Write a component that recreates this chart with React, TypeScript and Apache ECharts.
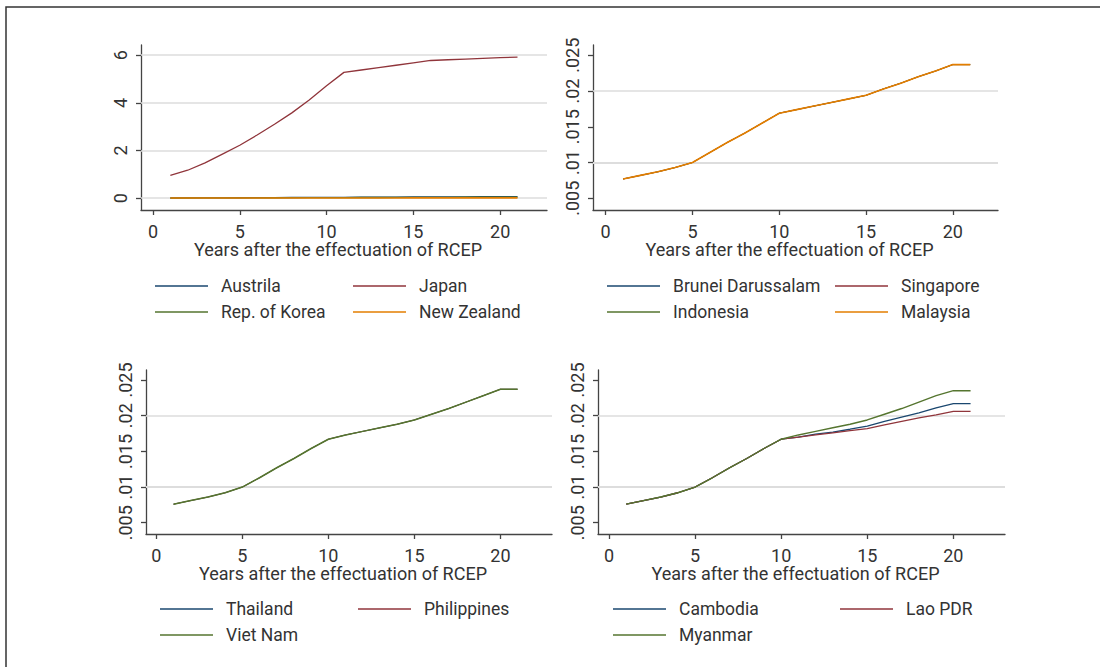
import React, { useEffect, useRef } from "react";
import * as echarts from "echarts";

const years = [1, 2, 3, 4, 5, 6, 7, 8, 9, 10, 11, 12, 13, 14, 15, 16, 17, 18, 19, 20, 21];
const xTicks = [0, 5, 10, 15, 20];
const p1YTicks = [0, 2, 4, 6];
const rateYTicks = [0.005, 0.01, 0.015, 0.02, 0.025];
const xTitle = "Years after the effectuation of RCEP";

// Panel 1
const australia = [0.003, 0.006, 0.009, 0.012, 0.015, 0.018, 0.021, 0.024, 0.027, 0.03, 0.033, 0.036, 0.039, 0.042, 0.045, 0.049, 0.052, 0.055, 0.058, 0.061, 0.064];
const japan = [0.95, 1.17, 1.48, 1.85, 2.22, 2.65, 3.1, 3.58, 4.12, 4.72, 5.28, 5.38, 5.48, 5.58, 5.68, 5.78, 5.81, 5.84, 5.87, 5.9, 5.92];
const korea = [0.002, 0.004, 0.006, 0.008, 0.01, 0.012, 0.014, 0.016, 0.018, 0.02, 0.022, 0.024, 0.026, 0.028, 0.03, 0.032, 0.034, 0.036, 0.038, 0.04, 0.042];
const newZealand = [0.001, 0.001, 0.002, 0.002, 0.003, 0.003, 0.004, 0.004, 0.005, 0.005, 0.006, 0.006, 0.007, 0.007, 0.008, 0.008, 0.009, 0.009, 0.01, 0.01, 0.01];

// Panel 2
const brunei = [0.0077, 0.0082, 0.0087, 0.0093, 0.01, 0.0114, 0.0128, 0.0141, 0.0155, 0.0169, 0.0174, 0.0179, 0.0184, 0.0189, 0.0194, 0.0203, 0.0211, 0.022, 0.0228, 0.0237, 0.0237];
const singapore = [0.0077, 0.0082, 0.0087, 0.0093, 0.01, 0.0114, 0.0128, 0.0141, 0.0155, 0.0169, 0.0174, 0.0179, 0.0184, 0.0189, 0.0194, 0.0203, 0.0211, 0.022, 0.0228, 0.0237, 0.0237];
const indonesia = [0.0077, 0.0082, 0.0087, 0.0093, 0.01, 0.0114, 0.0128, 0.0141, 0.0155, 0.0169, 0.0174, 0.0179, 0.0184, 0.0189, 0.0194, 0.0203, 0.0211, 0.022, 0.0228, 0.0237, 0.0237];
const malaysia = [0.0077, 0.0082, 0.0087, 0.0093, 0.01, 0.0114, 0.0128, 0.0141, 0.0155, 0.0169, 0.0174, 0.0179, 0.0184, 0.0189, 0.0194, 0.0203, 0.0211, 0.022, 0.0228, 0.0237, 0.0237];

// Panel 3
const thailand = [0.0076, 0.0081, 0.0086, 0.0092, 0.01, 0.0113, 0.0127, 0.014, 0.0154, 0.0167, 0.0173, 0.0178, 0.0183, 0.0188, 0.0194, 0.0202, 0.021, 0.0219, 0.0228, 0.0237, 0.0237];
const philippines = [0.0076, 0.0081, 0.0086, 0.0092, 0.01, 0.0113, 0.0127, 0.014, 0.0154, 0.0167, 0.0173, 0.0178, 0.0183, 0.0188, 0.0194, 0.0202, 0.021, 0.0219, 0.0228, 0.0237, 0.0237];
const vietNam = [0.0076, 0.0081, 0.0086, 0.0092, 0.01, 0.0113, 0.0127, 0.014, 0.0154, 0.0167, 0.0173, 0.0178, 0.0183, 0.0188, 0.0194, 0.0202, 0.021, 0.0219, 0.0228, 0.0237, 0.0237];

// Panel 4
const cambodia = [0.0076, 0.0081, 0.0086, 0.0092, 0.01, 0.0113, 0.0127, 0.014, 0.0154, 0.0167, 0.017, 0.0174, 0.0177, 0.0181, 0.01855, 0.0192, 0.0198, 0.0204, 0.0211, 0.0217, 0.0217];
const laoPDR = [0.0076, 0.0081, 0.0086, 0.0092, 0.01, 0.0113, 0.0127, 0.014, 0.0154, 0.0167, 0.017, 0.0173, 0.0176, 0.0179, 0.0182, 0.0187, 0.0192, 0.0197, 0.0201, 0.0206, 0.0206];
const myanmar = [0.0076, 0.0081, 0.0086, 0.0092, 0.01, 0.0113, 0.0127, 0.014, 0.0154, 0.0167, 0.0173, 0.0178, 0.0183, 0.0188, 0.0194, 0.0202, 0.021, 0.0219, 0.0228, 0.0235, 0.0235];

const NAVY = "#1a476f";
const MAROON = "#90353b";
const GREEN = "#55752f";
const ORANGE = "#e37e00";

const FONT = "Roboto, 'DejaVu Sans', sans-serif";
const TXT = "#333333";

const fmt = (v: number) => String(v).replace(/^0\./, ".").replace(/^-0\./, "-.");

export default function App() {
  const ref = useRef<HTMLDivElement>(null);
  useEffect(() => {
    if (!ref.current) return;
    const chart = echarts.init(ref.current, null, { renderer: "svg" });

    const grids = [
      { left: 141, top: 45, width: 406, height: 165 },
      { left: 593, top: 45, width: 405, height: 165 },
      { left: 146, top: 370, width: 406, height: 164 },
      { left: 598, top: 370, width: 407, height: 164 },
    ];
    const xRanges = [
      [-0.69, 22.7],
      [-0.73, 22.6],
      [-0.6, 23.0],
      [-0.64, 23.0],
    ];
    const yRanges = [
      [-0.5, 6.43],
      [0.00336, 0.02644],
      [0.00342, 0.0264],
      [0.00342, 0.0264],
    ];
    const yTicksFor = [p1YTicks, rateYTicks, rateYTicks, rateYTicks];

    const xAxis = grids.map((_, i) => ({
      type: "value",
      gridIndex: i,
      min: xRanges[i][0],
      max: xRanges[i][1],
      name: xTitle,
      nameLocation: "middle",
      nameGap: 29,
      nameTextStyle: { fontFamily: FONT, fontSize: 18, color: TXT, padding: [0, 12, 0, 0] },
      axisLine: { show: true, onZero: false, lineStyle: { color: "#444", width: 1.3 } },
      axisTick: { show: true, customValues: xTicks, length: 5, lineStyle: { color: "#444", width: 1.3 } },
      axisLabel: { customValues: xTicks, margin: 12, fontFamily: FONT, fontSize: 18, color: TXT, formatter: (v: number) => fmt(v) },
      splitLine: { show: false },
    }));

    const yAxis = grids.map((_, i) => ({
      type: "value",
      gridIndex: i,
      min: yRanges[i][0],
      max: yRanges[i][1],
      axisLine: { show: true, onZero: false, lineStyle: { color: "#444", width: 1.3 } },
      axisTick: { show: true, customValues: yTicksFor[i], length: 5, lineStyle: { color: "#444", width: 1.3 } },
      axisLabel: { customValues: yTicksFor[i], rotate: 90, margin: 12, fontFamily: FONT, fontSize: 18, color: TXT, formatter: (v: number) => fmt(v) },
      splitLine: { show: false },
    }));

    const gridLines = (ticks: number[]) => ({
      silent: true,
      symbol: "none",
      z: 1,
      label: { show: false },
      emphasis: { disabled: true },
      lineStyle: { color: "#dcdcdc", width: 1.5, type: "solid" },
      data: ticks.map((v) => ({ yAxis: v })),
    });

    const mk = (name: string, vals: number[], color: string, idx: number, width: number, withGrid?: number[]) => ({
      type: "line",
      name,
      xAxisIndex: idx,
      yAxisIndex: idx,
      data: years.map((y, k) => [y, vals[k]]),
      showSymbol: false,
      symbol: "none",
      color,
      lineStyle: { color, width },
      emphasis: { disabled: true },
      z: 2,
      ...(withGrid ? { markLine: gridLines(withGrid) } : {}),
    });

    const series = [
      mk("Austrila", australia, NAVY, 0, 1.3, p1YTicks),
      mk("Japan", japan, MAROON, 0, 1.3),
      mk("Rep. of Korea", korea, GREEN, 0, 1.3),
      mk("New Zealand", newZealand, ORANGE, 0, 1.6),
      mk("Brunei Darussalam", brunei, NAVY, 1, 0.8, rateYTicks),
      mk("Singapore", singapore, MAROON, 1, 0.8),
      mk("Indonesia", indonesia, GREEN, 1, 0.8),
      mk("Malaysia", malaysia, ORANGE, 1, 1.6),
      mk("Thailand", thailand, NAVY, 2, 0.8, rateYTicks),
      mk("Philippines", philippines, MAROON, 2, 0.8),
      mk("Viet Nam", vietNam, GREEN, 2, 1.5),
      mk("Cambodia", cambodia, NAVY, 3, 1.3, rateYTicks),
      mk("Lao PDR", laoPDR, MAROON, 3, 1.3),
      mk("Myanmar", myanmar, GREEN, 3, 1.4),
    ];

    const leg = (data: string[], left: number, top: number) => ({
      orient: "vertical",
      left,
      top,
      data,
      icon: "rect",
      itemWidth: 53,
      itemHeight: 1.3,
      itemGap: 6,
      padding: 0,
      selectedMode: false,
      textStyle: { fontFamily: FONT, fontSize: 17.5, color: TXT, lineHeight: 20, padding: [0, 0, 0, 8] },
    });

    const legend = [
      leg(["Austrila", "Rep. of Korea"], 155, 276),
      leg(["Japan", "New Zealand"], 353, 276),
      leg(["Brunei Darussalam", "Indonesia"], 607, 276),
      leg(["Singapore", "Malaysia"], 835, 276),
      leg(["Thailand", "Viet Nam"], 160, 599),
      leg(["Philippines"], 358, 599),
      leg(["Cambodia", "Myanmar"], 613, 599),
      leg(["Lao PDR"], 840, 599),
    ];

    chart.setOption({
      animation: false,
      backgroundColor: "#ffffff",
      textStyle: { fontFamily: FONT },
      grid: grids.map((g) => ({ ...g, containLabel: false })),
      xAxis,
      yAxis,
      series,
      legend,
      graphic: [
        {
          type: "rect",
          shape: { x: 6, y: 7, width: 1200, height: 800 },
          style: { fill: "none", stroke: "#333", lineWidth: 1.5 },
          silent: true,
        },
      ],
    });
    return () => chart.dispose();
  }, []);

  return (
    <div
      ref={ref}
      style={{ position: "absolute", left: 0, top: 0, width: 1100, height: 667 }}
    />
  );
}
